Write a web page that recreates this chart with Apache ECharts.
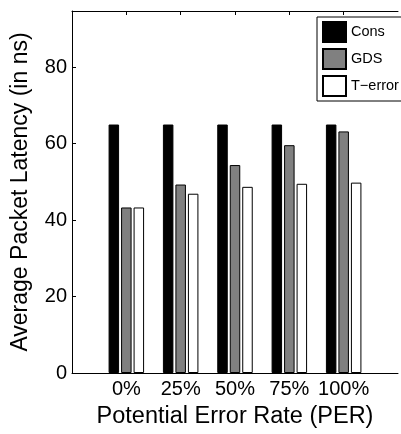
<!DOCTYPE html>
<html>
<head>
<meta charset="utf-8">
<script src="https://cdn.jsdelivr.net/npm/echarts@6/dist/echarts.min.js"></script>
<style>html,body{margin:0;padding:0;background:#fff;overflow:hidden}#c{width:401px;height:434px}</style>
</head>
<body>
<div id="c"></div>
<script>
var categories = ['0%', '25%', '50%', '75%', '100%'];
var seriesNames = ['Cons', 'GDS', 'T\u2212error'];
var consValues = [65, 65, 65, 65, 65];
var gdsValues = [43.3, 49.3, 54.4, 59.6, 63.2];
var terrValues = [43.3, 46.9, 48.7, 49.5, 49.8];
var yTicks = [0, 20, 40, 60, 80];

var axisCats = [''].concat(categories).concat(['']);
function pad(arr) { return ['-'].concat(arr).concat(['-']); }

var font = 'Liberation Sans, Arial, Helvetica, sans-serif';
var chart = echarts.init(document.getElementById('c'), null, {renderer: 'canvas', width: 401, height: 434});
var barStyle = {barWidth: 10.5, barGap: '19%'};
chart.setOption({
  animation: false,
  backgroundColor: '#fff',
  grid: {left: 72, top: 11, width: 333, height: 368, containLabel: false},
  legend: {
    show: true,
    orient: 'vertical',
    left: 317, top: 17,
    itemWidth: 23, itemHeight: 20, itemGap: 5, itemTextGap: 3, padding: [4, 3, 4, 5],
    backgroundColor: '#fff', borderColor: '#000', borderWidth: 1, borderRadius: 0,
    icon: 'rect',
    textStyle: {fontFamily: font, fontSize: 14.5, color: '#000'},
    data: seriesNames
  },
  xAxis: [{
    type: 'category', data: axisCats, boundaryGap: false, position: 'bottom',
    axisLine: {show: true, lineStyle: {color: '#000', width: 1}},
    axisTick: {show: false},
    axisLabel: {interval: 0, color: '#000', fontFamily: font, fontSize: 20, margin: 6},
    name: 'Potential Error Rate (PER)', nameLocation: 'middle', nameGap: 32,
    nameTextStyle: {color: '#000', fontFamily: font, fontSize: 23.5},
    splitLine: {show: false}
  }, {
    type: 'category', data: axisCats, boundaryGap: false, position: 'top',
    axisLine: {show: true, lineStyle: {color: '#000', width: 1}},
    axisTick: {show: true, inside: true, length: 4, lineStyle: {color: '#000'},
      interval: function (i, v) { return v !== ''; }},
    axisLabel: {show: false},
    splitLine: {show: false}
  }],
  yAxis: {
    type: 'value', min: 0, max: 94.7, interval: 20,
    axisLine: {show: true, lineStyle: {color: '#000', width: 1}},
    axisTick: {show: true, inside: true, length: 4, lineStyle: {color: '#000'}},
    axisLabel: {color: '#000', fontFamily: font, fontSize: 20, margin: 5, showMaxLabel: false,
      formatter: function (v) { return yTicks.indexOf(v) >= 0 ? String(v) : ''; }},
    splitLine: {show: false},
    name: 'Average Packet Latency (in ns)', nameLocation: 'middle', nameGap: 40,
    nameTextStyle: {color: '#000', fontFamily: font, fontSize: 23}
  },
  series: [
    Object.assign({name: seriesNames[0], type: 'bar', data: pad(consValues),
      itemStyle: {color: '#000', borderColor: '#000', borderWidth: 1}}, barStyle),
    Object.assign({name: seriesNames[1], type: 'bar', data: pad(gdsValues),
      itemStyle: {color: '#808080', borderColor: '#000', borderWidth: 1}}, barStyle),
    Object.assign({name: seriesNames[2], type: 'bar', data: pad(terrValues),
      itemStyle: {color: '#fff', borderColor: '#000', borderWidth: 1}}, barStyle)
  ]
});
</script>
</body>
</html>
